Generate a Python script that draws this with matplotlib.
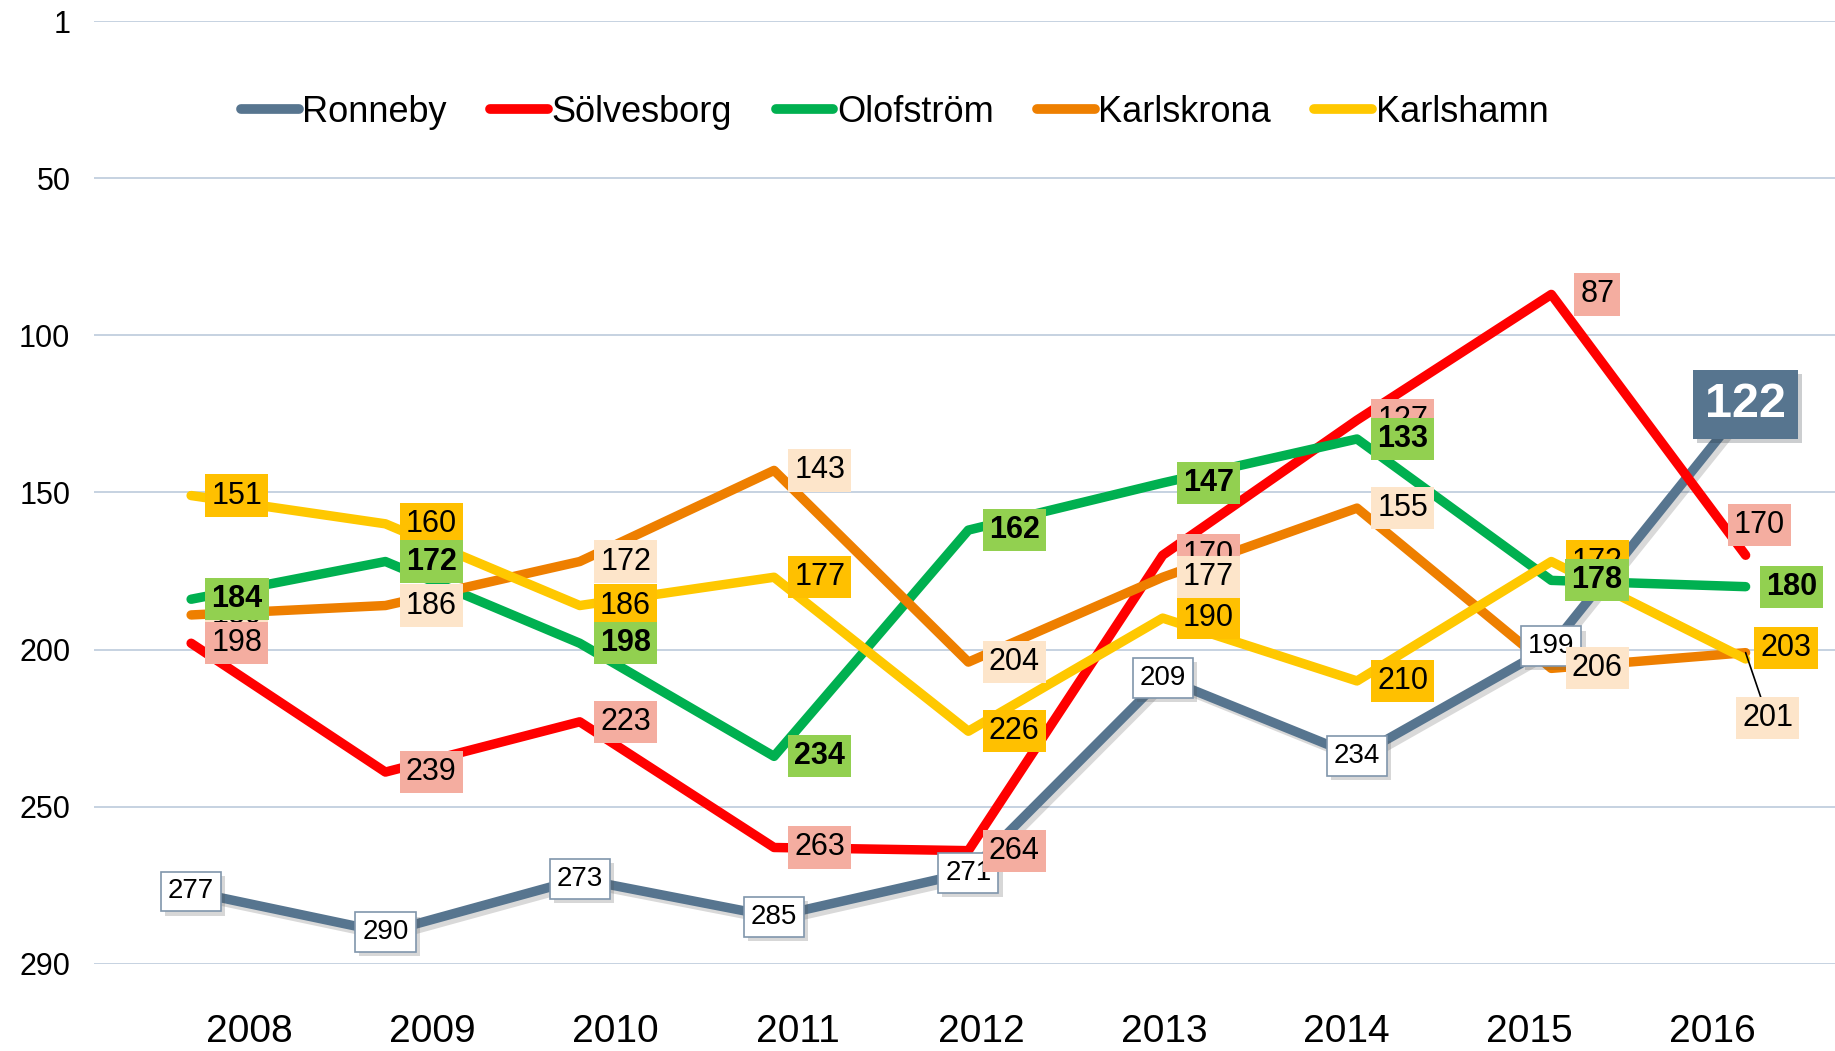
import numpy as np
import matplotlib
matplotlib.use('Agg')
import matplotlib.pyplot as plt
import matplotlib.font_manager as fm
from matplotlib import patheffects as pe
from matplotlib.lines import Line2D

# data (rank, lower is better)
years = ['2008', '2009', '2010', '2011', '2012', '2013', '2014', '2015', '2016']
ronneby = [277, 290, 273, 285, 271, 209, 234, 199, 122]
solvesborg = [198, 239, 223, 263, 264, 170, 127, 87, 170]
olofstrom = [184, 172, 198, 234, 162, 147, 133, 178, 180]
karlskrona = [189, 186, 172, 143, 204, 177, 155, 206, 201]
karlshamn = [151, 160, 186, 177, 226, 190, 210, 172, 203]
ytick_labels = ['1', '50', '100', '150', '200', '250', '290']

plt.rcParams['font.family'] = ['Liberation Sans', 'DejaVu Sans']
names = {f.name for f in fm.fontManager.ttflist}
narrow = 'Liberation Sans Narrow' if 'Liberation Sans Narrow' in names else 'Liberation Sans'

fig = plt.figure(figsize=(18.35, 10.51), dpi=100)
ax = fig.add_axes([0.0512, 0.083, 0.9488, 0.897])
x = np.arange(len(years))

# name, values, line colour, label box colour, bold, zorder
series = [
    ('Ronneby', ronneby, '#57758F', 'white', False, 5),
    ('Sölvesborg', solvesborg, '#FF0000', '#F4ADA0', False, 7),
    ('Olofström', olofstrom, '#00B050', '#92D050', True, 9),
    ('Karlskrona', karlskrona, '#EE7F00', '#FDE5CA', False, 8),
    ('Karlshamn', karlshamn, '#FFC800', '#FFC000', False, 6),
]

# label offsets (points) that differ from the default
special = {
    ('Sölvesborg', 8): (10, 22),
    ('Karlshamn', 8): (29, 8),
    ('Karlskrona', 8): (16, -47),
}
special_z = {('Sölvesborg', 0): 8.5}

for i, (name, vals, col, box, bold, z) in enumerate(series):
    effects = None
    if name == 'Ronneby':
        effects = [pe.SimpleLineShadow(offset=(3, -3), shadow_color='k', alpha=0.15), pe.Normal()]
    ax.plot(x, vals, color=col, lw=6.8, solid_capstyle='round', solid_joinstyle='round',
            zorder=2 + i * 0.1, path_effects=effects)

    for j, v in enumerate(vals):
        if name == 'Ronneby':
            last = j == len(vals) - 1
            if last:
                t = ax.annotate(str(v), (x[j], v), ha='center', va='center',
                                fontsize=35, fontweight='bold', color='white',
                                bbox=dict(boxstyle='square,pad=0.25', fc='#57758F', ec='none'),
                                zorder=z + 5)
            else:
                t = ax.annotate(str(v), (x[j], v), ha='center', va='center',
                                fontsize=20, family=narrow, color='black',
                                bbox=dict(boxstyle='square,pad=0.25', fc='white',
                                          ec='#8096AC', lw=1.2),
                                zorder=z)
            t.get_bbox_patch().set_path_effects(
                [pe.SimplePatchShadow(offset=(3, -3), alpha=0.22), pe.Normal()])
        else:
            dx, dy = special.get((name, j), (33, 0))
            arrow = None
            if (name, j) == ('Karlskrona', 8):
                arrow = dict(arrowstyle='-', color='black', lw=1.2, shrinkA=0, shrinkB=0)
            ax.annotate(str(v), (x[j], v), xytext=(dx, dy), textcoords='offset points',
                        ha='center', va='center', fontsize=22,
                        fontweight='bold' if bold else 'normal', color='black',
                        bbox=dict(boxstyle='square,pad=0.2', fc=box, ec='none'),
                        arrowprops=arrow, zorder=special_z.get((name, j), z))

ax.set_ylim(300, 0)
ax.set_xlim(-0.5, 8.46)
ax.set_yticks(np.arange(0, 301, 50), ytick_labels, fontsize=22)
ax.set_xticks(np.linspace(0.3, 7.83, len(years)), years, family=narrow, fontsize=28)
ax.yaxis.grid(True, color='#BCCBDB', lw=1.2)
ax.set_axisbelow(True)
ax.tick_params(axis='y', length=0, pad=17)
ax.tick_params(axis='x', length=0, pad=36)
for s in ax.spines.values():
    s.set_visible(False)

handles = [Line2D([], [], color=c, lw=7, solid_capstyle='round') for _, _, c, _, _, _ in series]
ax.legend(handles, [s[0] for s in series], loc='center', bbox_to_anchor=(0.46, 0.903),
          ncol=5, frameon=False, fontsize=26, handlelength=1.6, handletextpad=0.1,
          columnspacing=1.2)

fig.savefig('out.png', dpi=100)
